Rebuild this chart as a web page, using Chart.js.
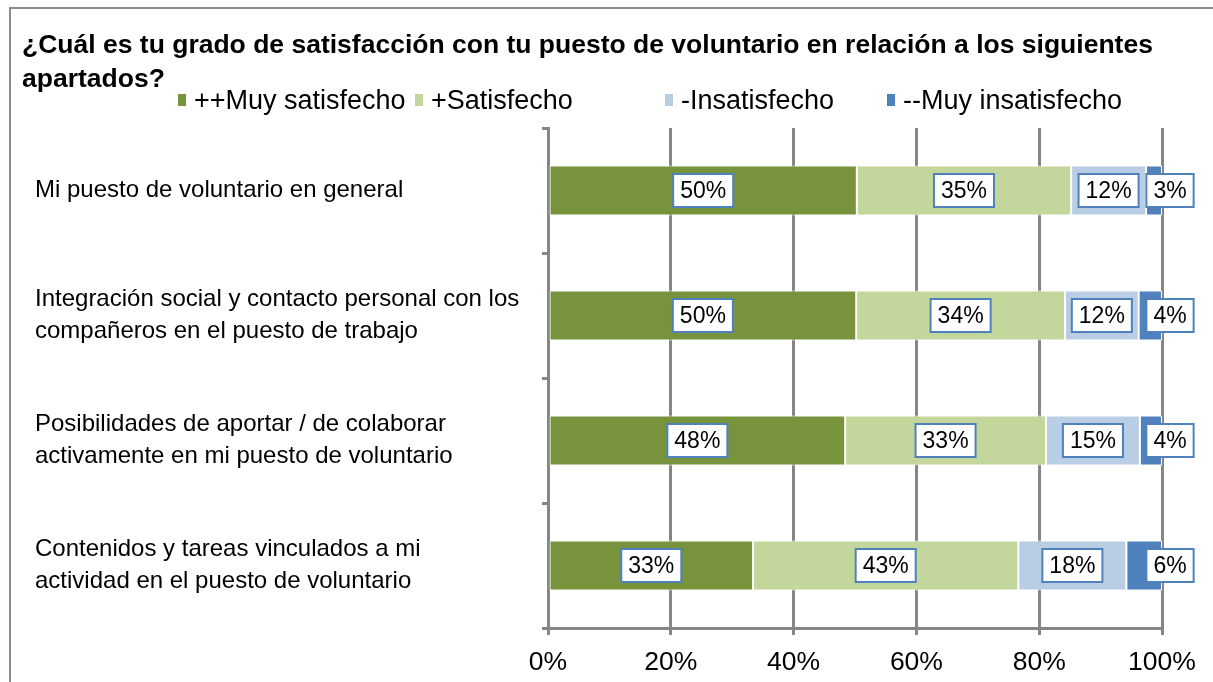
<!DOCTYPE html>
<html>
<head>
<meta charset="utf-8">
<script src="https://cdn.jsdelivr.net/npm/chart.js@4"></script>
<style>
  html, body { margin: 0; padding: 0; background: #fff; }
  #wrap { position: relative; width: 1213px; height: 682px; }
</style>
</head>
<body>
<div id="wrap"><canvas id="chart" width="1213" height="682"></canvas></div>
<script>
(function () {
    "use strict";

    // Data
    const categories = [
        ["Mi puesto de voluntario en general"],
        ["Integración social y contacto personal con los", "compañeros en el puesto de trabajo"],
        ["Posibilidades de aportar / de colaborar", "activamente en mi puesto de voluntario"],
        ["Contenidos y tareas vinculados a mi", "actividad en el puesto de voluntario"],
    ];
    const seriesNames = ["++Muy satisfecho", "+Satisfecho", "-Insatisfecho", "--Muy insatisfecho"];
    const muySatisfecho = [50.3, 50.2, 48.4, 33.4];
    const satisfecho = [34.9, 34.0, 32.7, 43.2];
    const insatisfecho = [12.2, 12.0, 15.3, 17.6];
    const muyInsatisfecho = [2.6, 3.8, 3.6, 5.8];
    const xTicks = [0, 20, 40, 60, 80, 100];
    const titleLines = [
        "¿Cuál es tu grado de satisfacción con tu puesto de voluntario en relación a los siguientes",
        "apartados?",
    ];

    const colors = ["#77933C", "#C3D69B", "#B9CDE5", "#4F81BD"];
    const axisGray = "#868686";
    const fontFamily = "'Liberation Sans', Arial, sans-serif";
    const legendX = [178, 415, 665, 887];

    // Frame, title and legend
    const decorPlugin = {
        id: "decor",
        afterDraw(chart) {
            const ctx = chart.ctx;
            ctx.save();
            ctx.strokeStyle = "#8c8c8c";
            ctx.lineWidth = 2;
            ctx.strokeRect(10, 8, 1260, 720);

            ctx.fillStyle = "#000";
            ctx.font = "bold 26.5px " + fontFamily;
            ctx.textBaseline = "middle";
            ctx.textAlign = "left";
            ctx.fillText(titleLines[0], 22, 46);
            ctx.fillText(titleLines[1], 22, 80);

            ctx.font = "27px " + fontFamily;
            seriesNames.forEach((name, i) => {
                const x = legendX[i];
                ctx.fillStyle = colors[i];
                ctx.fillRect(x, 94, 8, 12);
                ctx.fillStyle = "#000";
                ctx.fillText(name, x + 16, 102);
            });
            ctx.restore();
        },
    };

    // Boxed value labels
    const labelPlugin = {
        id: "boxLabels",
        afterDatasetsDraw(chart) {
            const ctx = chart.ctx;
            ctx.save();
            ctx.font = "23px " + fontFamily;
            ctx.textAlign = "center";
            ctx.textBaseline = "middle";
            chart.data.datasets.forEach((ds, di) => {
                const meta = chart.getDatasetMeta(di);
                meta.data.forEach((bar, i) => {
                    const text = Math.round(ds.data[i]) + "%";
                    const last = di === chart.data.datasets.length - 1;
                    const cx = last ? bar.x + 8 : (bar.base + bar.x) / 2;
                    const w = ctx.measureText(text).width + 14;
                    const h = 33;
                    ctx.fillStyle = "#fff";
                    ctx.fillRect(cx - w / 2, bar.y - h / 2, w, h);
                    ctx.strokeStyle = "#4F81BD";
                    ctx.lineWidth = 2;
                    ctx.strokeRect(cx - w / 2, bar.y - h / 2, w, h);
                    ctx.fillStyle = "#000";
                    ctx.fillText(text, cx, bar.y + 1);
                });
            });
            ctx.restore();
        },
    };

    const seriesData = [muySatisfecho, satisfecho, insatisfecho, muyInsatisfecho];

    const ctx = document.getElementById("chart").getContext("2d");
    new Chart(ctx, {
        type: "bar",
        data: {
            labels: categories,
            datasets: seriesNames.map((name, i) => ({
                label: name,
                data: seriesData[i],
                backgroundColor: colors[i],
                borderColor: "#ffffff",
                borderWidth: 1,
                borderSkipped: false,
                barPercentage: 0.4,
                categoryPercentage: 1,
            })),
        },
        options: {
            indexAxis: "y",
            responsive: false,
            animation: false,
            layout: {
                padding: { top: 128, left: 35, right: 51, bottom: 0 },
            },
            plugins: {
                legend: { display: false },
                title: { display: false },
                tooltip: { enabled: false },
            },
            scales: {
                x: {
                    stacked: true,
                    min: 0,
                    max: 100,
                    afterBuildTicks: (axis) => {
                        axis.ticks = xTicks.map((v) => ({ value: v }));
                    },
                    afterFit: (axis) => {
                        axis.height = 54;
                    },
                    ticks: {
                        font: { size: 26.5, family: fontFamily },
                        color: "#000",
                        padding: 12,
                        maxRotation: 0,
                        callback: (value) => value + "%",
                    },
                    grid: {
                        color: axisGray,
                        lineWidth: 3,
                        tickLength: 7,
                    },
                    border: {
                        display: true,
                        color: axisGray,
                        width: 3,
                    },
                },
                y: {
                    stacked: true,
                    afterFit: (axis) => {
                        axis.width = 548 - 35;
                    },
                    ticks: {
                        crossAlign: "far",
                        font: { size: 24, family: fontFamily, lineHeight: 1.33 },
                        color: "#000",
                    },
                    grid: {
                        drawOnChartArea: false,
                        color: axisGray,
                        lineWidth: 3,
                        tickLength: 6,
                    },
                    border: {
                        display: true,
                        color: axisGray,
                        width: 3,
                    },
                },
            },
        },
        plugins: [decorPlugin, labelPlugin],
    });
})();
</script>
</body>
</html>
